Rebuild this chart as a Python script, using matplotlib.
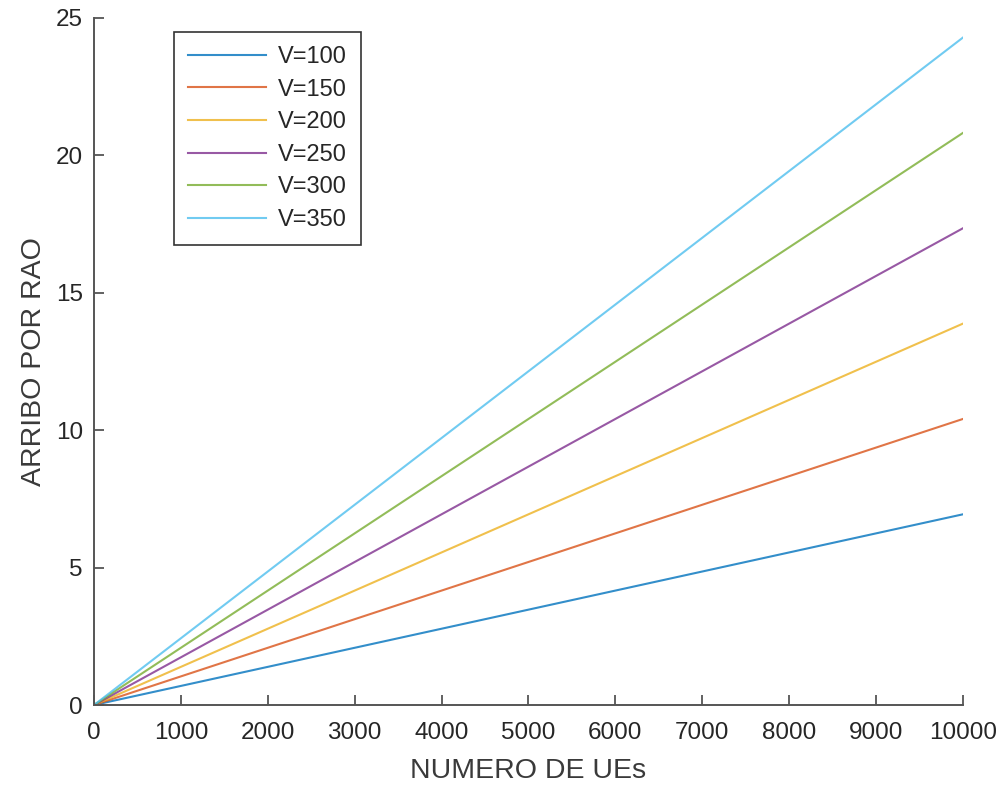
import matplotlib.pyplot as plt

plt.rcParams['font.family'] = ['Liberation Sans', 'DejaVu Sans']

# data
ues = [0, 10000]
v_labels = ['V=100', 'V=150', 'V=200', 'V=250', 'V=300', 'V=350']
arribo_final = [6.94, 10.41, 13.88, 17.35, 20.82, 24.29]
colores = ['#0072BD', '#D95319', '#EDB120', '#7E2F8E', '#77AC30', '#4DBEEE']

fig = plt.figure(figsize=(10.03, 7.89), dpi=100)
ax = fig.add_axes([94/1003, 1 - 705/789, 869/1003, 687/789])

for lab, yf, c in zip(v_labels, arribo_final, colores):
    ax.plot(ues, [0, yf], color=c, lw=1.5, alpha=0.8, label=lab)

ax.set_xlim(0, 10000)
ax.set_ylim(0, 25)
ax.set_xticks(range(0, 10001, 1000))
ax.set_yticks(range(0, 26, 5))

gris = '#262626'
for s in ['top', 'right']:
    ax.spines[s].set_visible(False)
for s in ['left', 'bottom']:
    ax.spines[s].set_color('#555555')
    ax.spines[s].set_linewidth(1.4)
ax.tick_params(direction='in', length=7, width=1.3, color='#555555',
               labelsize=17.5, labelcolor=gris)
ax.tick_params(axis='x', pad=12)
ax.tick_params(axis='y', pad=8)

ax.set_xlabel('NUMERO DE UEs', fontsize=20.5, color='#3a3a3a', labelpad=10)
ax.set_ylabel('ARRIBO POR RAO', fontsize=20.5, color='#3a3a3a', labelpad=6)

leg = ax.legend(loc='upper left', bbox_to_anchor=(0.092, 0.98), borderaxespad=0,
                fontsize=17, handlelength=3.3, fancybox=False, framealpha=1,
                edgecolor='#333333', labelspacing=0.45, handletextpad=0.5,
                borderpad=0.6)
leg.get_frame().set_linewidth(1.2)
for t in leg.get_texts():
    t.set_color(gris)

plt.savefig('out.png', dpi=100)
